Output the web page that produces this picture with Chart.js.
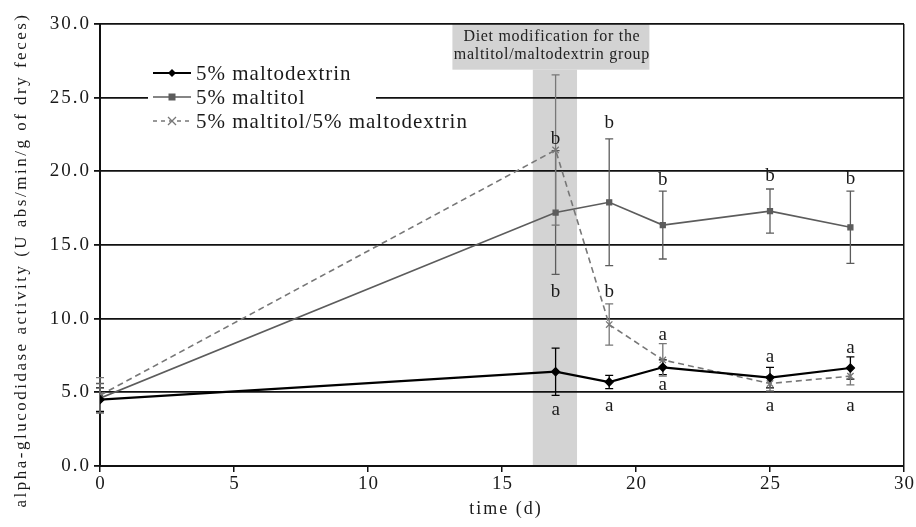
<!DOCTYPE html>
<html>
<head>
<meta charset="utf-8">
<script src="https://cdn.jsdelivr.net/npm/chart.js@4.4.0/dist/chart.umd.min.js"></script>
<style>
  html, body { margin: 0; padding: 0; background: #fff; }
  #wrap { width: 916px; height: 527px; }
</style>
</head>
<body>
<div id="wrap"><canvas id="chart" width="916" height="527"></canvas></div>
<script>
// jours de prélèvement
var days = [0, 17, 19, 21, 25, 28];

// moyennes
var maltodextrin = [4.5, 6.4, 5.7, 6.7, 6.0, 6.65];
var maltitol = [4.6, 17.2, 17.9, 16.35, 17.3, 16.2];
var mixed = [4.8, 21.45, 9.6, 7.2, 5.6, 6.1];

// écarts-types (barres d'erreur)
var errMaltodextrin = [0.8, 1.6, 0.45, 0.5, 0.7, 0.75];
var errMaltitol = [1.0, 4.2, 4.3, 2.3, 1.5, 2.45];
var errMixed = [1.2, 5.1, 1.4, 1.1, 0.5, 0.6];

var yTicks = [0, 5, 10, 15, 20, 25, 30];
var xTicks = [0, 5, 10, 15, 20, 25, 30];

// lettres de significativité [jour, valeur]
var letters = [
  ["b", 17, 22.2], ["b", 17, 11.8], ["a", 17, 3.8],
  ["b", 19, 23.3], ["b", 19, 11.8], ["a", 19, 4.1],
  ["b", 21, 19.4], ["a", 21, 8.9], ["a", 21, 5.5],
  ["b", 25, 19.7], ["a", 25, 7.4], ["a", 25, 4.1],
  ["b", 28, 19.5], ["a", 28, 8.0], ["a", 28, 4.1]
];

// zone "diet modification" en unités de données
var bandDays = [16.15, 17.8];
var bandTop = 26.9;
var labelDays = [13.15, 20.5];

var serif = "'Liberation Serif', 'DejaVu Serif', serif";
var ink = "#1a1a1a";

function pts(ys) {
  return days.map(function (d, i) { return { x: d, y: ys[i] }; });
}

var series = [
  { label: "5% maltodextrin", data: maltodextrin, err: errMaltodextrin, color: "#000000", width: 2.2, dash: [], style: "rectRot", r: 4 },
  { label: "5% maltitol", data: maltitol, err: errMaltitol, color: "#5c5c5c", width: 1.6, dash: [], style: "rect", r: 3.5 },
  { label: "5% maltitol/5% maltodextrin", data: mixed, err: errMixed, color: "#777777", width: 1.6, dash: [6, 4], style: "crossRot", r: 4.5 }
];

function text(c, s, x, y, size, spacing, align) {
  c.font = size + "px " + serif;
  c.letterSpacing = spacing + "px";
  c.textAlign = align || "center";
  c.textBaseline = "middle";
  c.fillText(s, x, y);
}

var bandPlugin = {
  id: "band",
  beforeDraw: function (chart) {
    var c = chart.ctx, x = chart.scales.x, y = chart.scales.y;
    c.save();
    c.fillStyle = "#d3d3d3";
    var x0 = x.getPixelForValue(bandDays[0]), x1 = x.getPixelForValue(bandDays[1]);
    c.fillRect(x0, y.getPixelForValue(bandTop), x1 - x0, y.getPixelForValue(0) - y.getPixelForValue(bandTop));
    var l0 = x.getPixelForValue(labelDays[0]), l1 = x.getPixelForValue(labelDays[1]);
    c.fillRect(l0, y.getPixelForValue(30), l1 - l0, y.getPixelForValue(bandTop) - y.getPixelForValue(30));
    c.fillStyle = "#222";
    var cx = (l0 + l1) / 2 + 1;
    text(c, "Diet modification for the", cx, y.getPixelForValue(30) + 13, 16, 0.7);
    text(c, "maltitol/maltodextrin group", cx, y.getPixelForValue(30) + 31, 16, 0.7);
    c.restore();
  }
};

var extrasPlugin = {
  id: "extras",
  beforeDatasetsDraw: function (chart) {
    var c = chart.ctx, x = chart.scales.x, y = chart.scales.y;
    c.save();
    series.forEach(function (s) {
      c.strokeStyle = s.color;
      c.lineWidth = 1.3;
      days.forEach(function (d, i) {
        var px = x.getPixelForValue(d);
        var top = y.getPixelForValue(s.data[i] + s.err[i]);
        var bot = y.getPixelForValue(s.data[i] - s.err[i]);
        c.beginPath();
        c.moveTo(px, top); c.lineTo(px, bot);
        c.moveTo(px - 4, top); c.lineTo(px + 4, top);
        c.moveTo(px - 4, bot); c.lineTo(px + 4, bot);
        c.stroke();
      });
    });
    c.restore();
  },
  afterDatasetsDraw: function (chart) {
    var c = chart.ctx, x = chart.scales.x, y = chart.scales.y;
    c.save();
    c.fillStyle = ink;
    // libellés des axes
    yTicks.forEach(function (v) {
      text(c, v.toFixed(1), 91, y.getPixelForValue(v), 19, 2, "right");
    });
    xTicks.forEach(function (v) {
      text(c, String(v), x.getPixelForValue(v) + 0.5, 484, 19, 1);
    });
    text(c, "time (d)", 506, 509, 18, 2);
    c.save();
    c.translate(22, 260);
    c.rotate(-Math.PI / 2);
    text(c, "alpha-glucodidase activity (U abs/min/g of dry feces)", 0, 0, 17, 2.5);
    c.restore();
    // lettres
    letters.forEach(function (l) {
      text(c, l[0], x.getPixelForValue(l[1]), y.getPixelForValue(l[2]), 19, 0);
    });
    // légende
    c.fillStyle = "#fff";
    c.fillRect(148, 60, 228, 74);
    series.forEach(function (s, i) {
      var ly = 73 + i * 24;
      c.strokeStyle = s.color;
      c.lineWidth = s.width;
      c.setLineDash(s.dash.length ? [4, 4] : []);
      c.beginPath();
      c.moveTo(153, ly); c.lineTo(191, ly);
      c.stroke();
      c.setLineDash([]);
      c.fillStyle = s.color;
      c.lineWidth = 1.3;
      var mx = 172;
      if (s.style === "rectRot") {
        c.beginPath();
        c.moveTo(mx, ly - 4); c.lineTo(mx + 4, ly); c.lineTo(mx, ly + 4); c.lineTo(mx - 4, ly);
        c.closePath(); c.fill();
      } else if (s.style === "rect") {
        c.fillRect(mx - 3.5, ly - 3.5, 7, 7);
      } else {
        c.beginPath();
        c.moveTo(mx - 4, ly - 4); c.lineTo(mx + 4, ly + 4);
        c.moveTo(mx + 4, ly - 4); c.lineTo(mx - 4, ly + 4);
        c.stroke();
      }
      c.fillStyle = ink;
      text(c, s.label, 196, ly + 1, 21, 1, "left");
    });
    c.restore();
  }
};

new Chart(document.getElementById("chart"), {
  type: "scatter",
  data: {
    datasets: series.map(function (s) {
      return {
        label: s.label,
        data: pts(s.data),
        showLine: true,
        borderColor: s.color,
        backgroundColor: s.color,
        borderWidth: s.width,
        borderDash: s.dash,
        pointStyle: s.style,
        pointRadius: s.r,
        pointBorderWidth: 1.3,
        tension: 0
      };
    })
  },
  options: {
    responsive: false,
    animation: false,
    events: [],
    layout: { padding: { top: 24, right: 12, left: 0, bottom: 0 } },
    plugins: { legend: { display: false }, tooltip: { enabled: false } },
    scales: {
      x: {
        type: "linear",
        min: 0, max: 30,
        afterBuildTicks: function (s) { s.ticks = xTicks.map(function (v) { return { value: v }; }); },
        afterFit: function (s) { s.height = 61; },
        ticks: { display: false },
        grid: {
          drawOnChartArea: true,
          color: function (ctx) { return ctx.tick && ctx.tick.value === 30 ? "#111" : "rgba(0,0,0,0)"; },
          tickColor: "#111",
          tickLength: 6,
          lineWidth: 1.5
        },
        border: { color: "#111", width: 2 }
      },
      y: {
        min: 0, max: 30,
        afterBuildTicks: function (s) { s.ticks = yTicks.map(function (v) { return { value: v }; }); },
        afterFit: function (s) { s.width = 100; },
        ticks: { display: false },
        grid: { color: "#111", lineWidth: 1.8, tickColor: "#111", tickLength: 6 },
        border: { color: "#111", width: 2 }
      }
    }
  },
  plugins: [bandPlugin, extrasPlugin]
});
</script>
</body>
</html>
